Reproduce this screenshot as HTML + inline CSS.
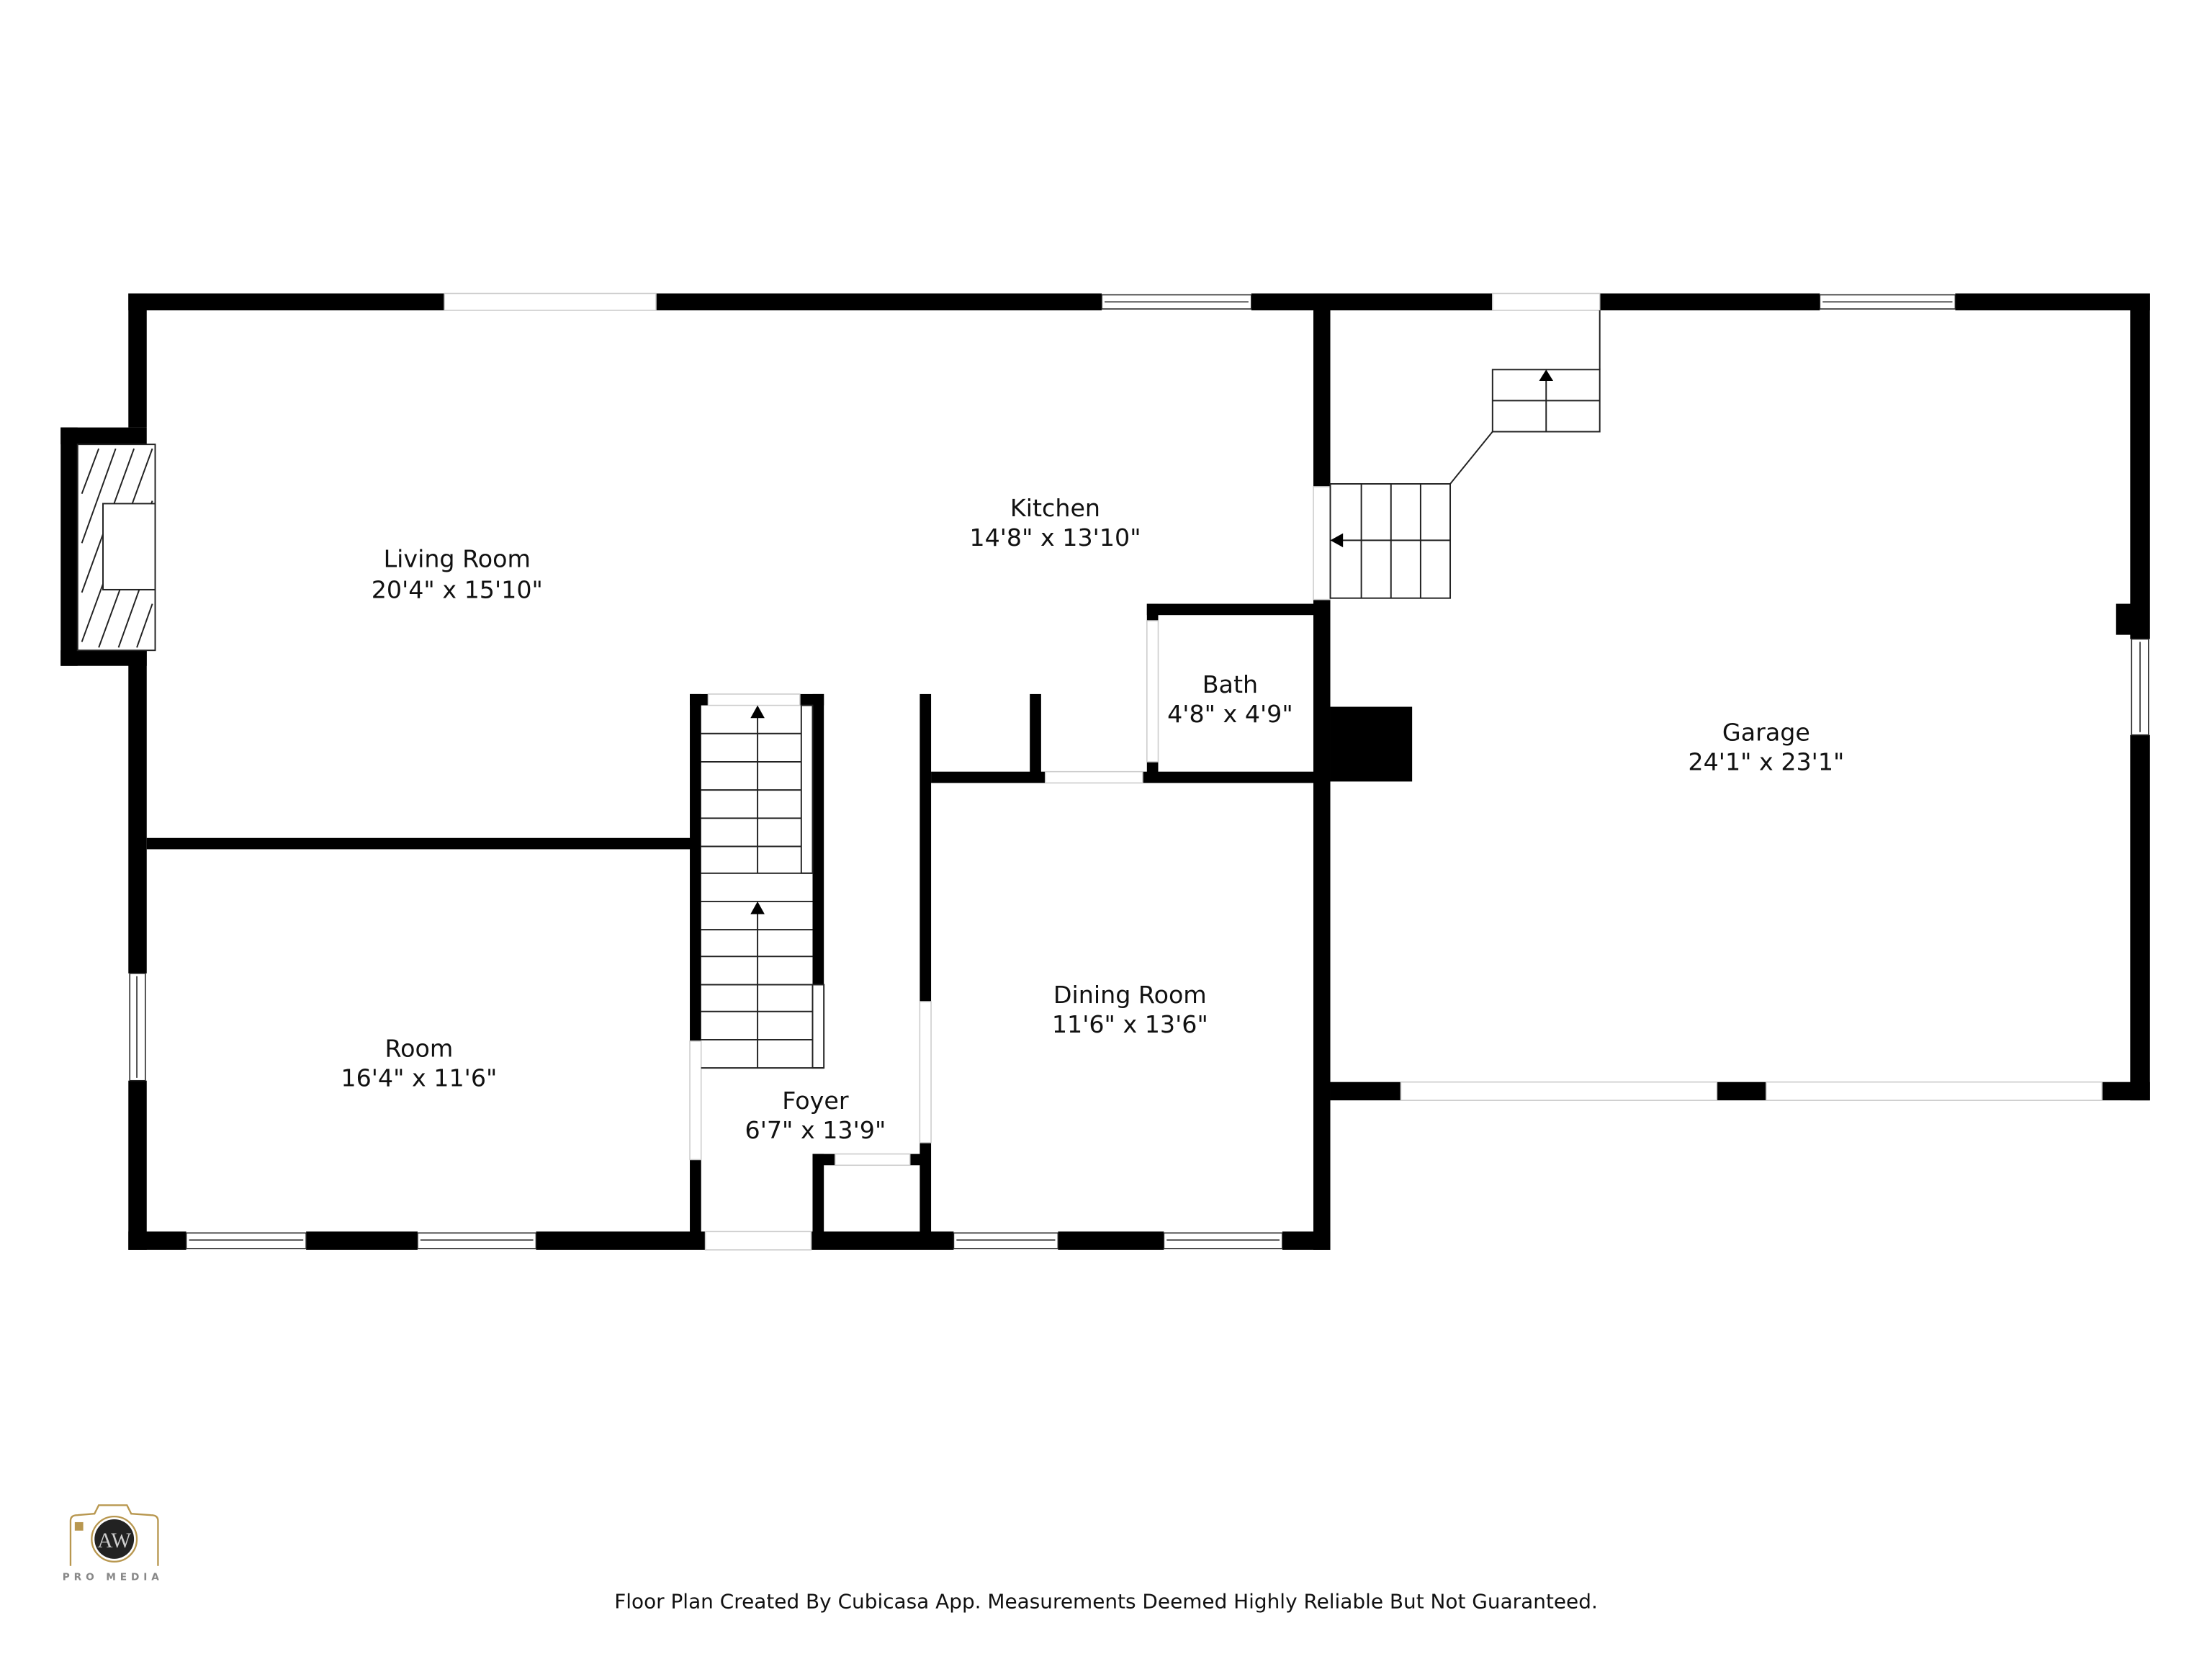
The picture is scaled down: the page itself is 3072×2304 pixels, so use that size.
<!DOCTYPE html>
<html><head><meta charset="utf-8"><style>
html,body{margin:0;padding:0;background:#fff}
svg{display:block}
text{font-family:"DejaVu Sans","Liberation Sans",sans-serif;fill:#111}
</style></head><body>
<svg width="3072" height="2304" viewBox="0 0 1568 1176" xmlns="http://www.w3.org/2000/svg">
<rect width="1568" height="1176" fill="#fff"/>
<g fill="#000">
<rect x="91" y="208" width="224" height="12"/>
<rect x="465" y="208" width="316" height="12"/>
<rect x="887" y="208" width="171" height="12"/>
<rect x="1134" y="208" width="156" height="12"/>
<rect x="1386" y="208" width="138" height="12"/>
<rect x="91" y="208" width="13" height="95"/>
<rect x="43" y="303" width="61" height="12"/>
<rect x="43" y="303" width="12" height="169"/>
<rect x="43" y="461" width="61" height="11"/>
<rect x="91" y="461" width="13" height="229"/>
<rect x="91" y="766" width="13" height="120"/>
<rect x="91" y="873" width="41" height="13"/>
<rect x="217" y="873" width="79" height="13"/>
<rect x="380" y="873" width="120" height="13"/>
<rect x="575" y="873" width="101" height="13"/>
<rect x="750" y="873" width="75" height="13"/>
<rect x="909" y="873" width="34" height="13"/>
<rect x="931" y="208" width="12" height="137"/>
<rect x="931" y="425" width="12" height="461"/>
<rect x="943" y="501" width="58" height="53"/>
<rect x="1510" y="208" width="14" height="245"/>
<rect x="1510" y="521" width="14" height="259"/>
<rect x="1500" y="428" width="12" height="22"/>
<rect x="943" y="767" width="50" height="13"/>
<rect x="1217" y="767" width="35" height="13"/>
<rect x="1490" y="767" width="34" height="13"/>
<rect x="104" y="594" width="386" height="8"/>
<rect x="489" y="492" width="8" height="246"/>
<rect x="489" y="822" width="8" height="54"/>
<rect x="489" y="492" width="13" height="8"/>
<rect x="567" y="492" width="17" height="8"/>
<rect x="576" y="492" width="8" height="206"/>
<rect x="652" y="492" width="8" height="218"/>
<rect x="652" y="810" width="8" height="66"/>
<rect x="576" y="818" width="8" height="58"/>
<rect x="576" y="818" width="16" height="8"/>
<rect x="645" y="818" width="10" height="8"/>
<rect x="660" y="547" width="81" height="8"/>
<rect x="810" y="547" width="121" height="8"/>
<rect x="730" y="492" width="8" height="60"/>
<rect x="813" y="428" width="118" height="8"/>
<rect x="813" y="428" width="8" height="12"/>
<rect x="813" y="540" width="8" height="14"/>
</g>
<g fill="#fff" stroke="#222" stroke-width="0.8">
<rect x="781" y="209" width="106" height="10"/><line x1="783" y1="214" x2="885" y2="214"/>
<rect x="1290" y="209" width="96" height="10"/><line x1="1292" y1="214" x2="1384" y2="214"/>
<rect x="132" y="874" width="85" height="11"/><line x1="134" y1="879" x2="215" y2="879"/>
<rect x="296" y="874" width="84" height="11"/><line x1="298" y1="879" x2="378" y2="879"/>
<rect x="676" y="874" width="74" height="11"/><line x1="678" y1="879" x2="748" y2="879"/>
<rect x="825" y="874" width="84" height="11"/><line x1="827" y1="879" x2="907" y2="879"/>
<rect x="92" y="690" width="11" height="76"/><line x1="97" y1="692" x2="97" y2="764"/>
<rect x="1511" y="453" width="12" height="68"/><line x1="1517" y1="455" x2="1517" y2="519"/>
</g>
<g fill="none" stroke="#ccc" stroke-width="0.8">
<rect x="315" y="208" width="150" height="12"/>
<rect x="1058" y="208" width="76" height="12"/>
<rect x="500" y="873" width="75" height="13"/>
<rect x="931" y="345" width="12" height="80"/>
<rect x="993" y="767" width="224" height="13"/>
<rect x="1252" y="767" width="238" height="13"/>
<rect x="489" y="738" width="8" height="84"/>
<rect x="652" y="710" width="8" height="100"/>
<rect x="741" y="547" width="69" height="8"/>
<rect x="813" y="440" width="8" height="100"/>
<rect x="592" y="818" width="53" height="8"/>
<rect x="502" y="492" width="65" height="8"/>
</g>
<rect x="55" y="315" width="55" height="146" fill="#fff" stroke="#222" stroke-width="1"/>
<g stroke="#222" stroke-width="1">
<line x1="58" y1="350" x2="70" y2="318"/><line x1="58" y1="385" x2="82" y2="318"/>
<line x1="58" y1="420" x2="95" y2="318"/><line x1="58" y1="455" x2="108" y2="318"/>
<line x1="70" y1="459" x2="108" y2="355"/><line x1="84" y1="459" x2="108" y2="392"/><line x1="97" y1="459" x2="108" y2="428"/>
</g>
<rect x="73" y="357" width="37" height="61" fill="#fff" stroke="#222" stroke-width="1"/>
<g stroke="#222" stroke-width="1" fill="none">
<rect x="568" y="500" width="8" height="119" fill="#fff"/>
<rect x="576" y="698" width="8" height="59" fill="#fff"/>
<line x1="497" y1="520" x2="568" y2="520"/><line x1="497" y1="540" x2="568" y2="540"/>
<line x1="497" y1="560" x2="568" y2="560"/><line x1="497" y1="580" x2="568" y2="580"/>
<line x1="497" y1="600" x2="568" y2="600"/><line x1="497" y1="619" x2="576" y2="619"/>
<line x1="497" y1="639" x2="576" y2="639"/><line x1="497" y1="659" x2="576" y2="659"/>
<line x1="497" y1="678" x2="576" y2="678"/><line x1="497" y1="698" x2="576" y2="698"/>
<line x1="497" y1="717" x2="576" y2="717"/><line x1="497" y1="737" x2="576" y2="737"/>
<line x1="497" y1="757" x2="584" y2="757"/>
<line x1="537" y1="508" x2="537" y2="619"/><line x1="537" y1="646" x2="537" y2="757"/>
</g>
<polygon points="537,500 532,509 542,509" fill="#000"/>
<polygon points="537,639 532,648 542,648" fill="#000"/>
<g stroke="#222" stroke-width="1" fill="none">
<rect x="943" y="343" width="85" height="81"/>
<line x1="965" y1="343" x2="965" y2="424"/><line x1="986" y1="343" x2="986" y2="424"/>
<line x1="1007" y1="343" x2="1007" y2="424"/><line x1="950" y1="383" x2="1028" y2="383"/>
<rect x="1058" y="262" width="76" height="44"/>
<line x1="1058" y1="284" x2="1134" y2="284"/><line x1="1096" y1="270" x2="1096" y2="306"/>
<line x1="1028" y1="343" x2="1058" y2="306"/>
<line x1="1134" y1="220" x2="1134" y2="262"/>
</g>
<polygon points="943,383 952,378 952,388" fill="#000"/>
<polygon points="1096,262 1091,270 1101,270" fill="#000"/>
<g font-size="17" text-anchor="middle">
<text x="324" y="402">Living Room</text><text x="324" y="424">20'4" x 15'10"</text>
<text x="748" y="366">Kitchen</text><text x="748" y="387">14'8" x 13'10"</text>
<text x="872" y="491">Bath</text><text x="872" y="512">4'8" x 4'9"</text>
<text x="1252" y="525">Garage</text><text x="1252" y="546">24'1" x 23'1"</text>
<text x="297" y="749">Room</text><text x="297" y="770">16'4" x 11'6"</text>
<text x="801" y="711">Dining Room</text><text x="801" y="732">11'6" x 13'6"</text>
<text x="578" y="786">Foyer</text><text x="578" y="807">6'7" x 13'9"</text>
</g>
<text x="784" y="1140" font-size="14.25" text-anchor="middle">Floor Plan Created By Cubicasa App. Measurements Deemed Highly Reliable But Not Guaranteed.</text>
<g>
<path d="M50 1110 V1078 Q50 1074 55 1074 L67 1073 L70 1067 H90 L93 1073 L107 1074 Q112 1074 112 1078 V1110" fill="none" stroke="#b8974f" stroke-width="1.2"/>
<rect x="53" y="1079" width="6" height="6" fill="#b8974f"/>
<circle cx="81" cy="1091" r="16" fill="#fff" stroke="#b8974f" stroke-width="1.2"/>
<circle cx="81" cy="1091" r="14" fill="#222"/>
<text x="81" y="1097" font-size="15" text-anchor="middle" style="fill:#ccc;font-family:'Liberation Serif',serif">AW</text>
<text x="80" y="1120" font-size="7" text-anchor="middle" letter-spacing="3" style="fill:#888;font-weight:bold">PRO MEDIA</text>
</g>
</svg>
</body></html>
